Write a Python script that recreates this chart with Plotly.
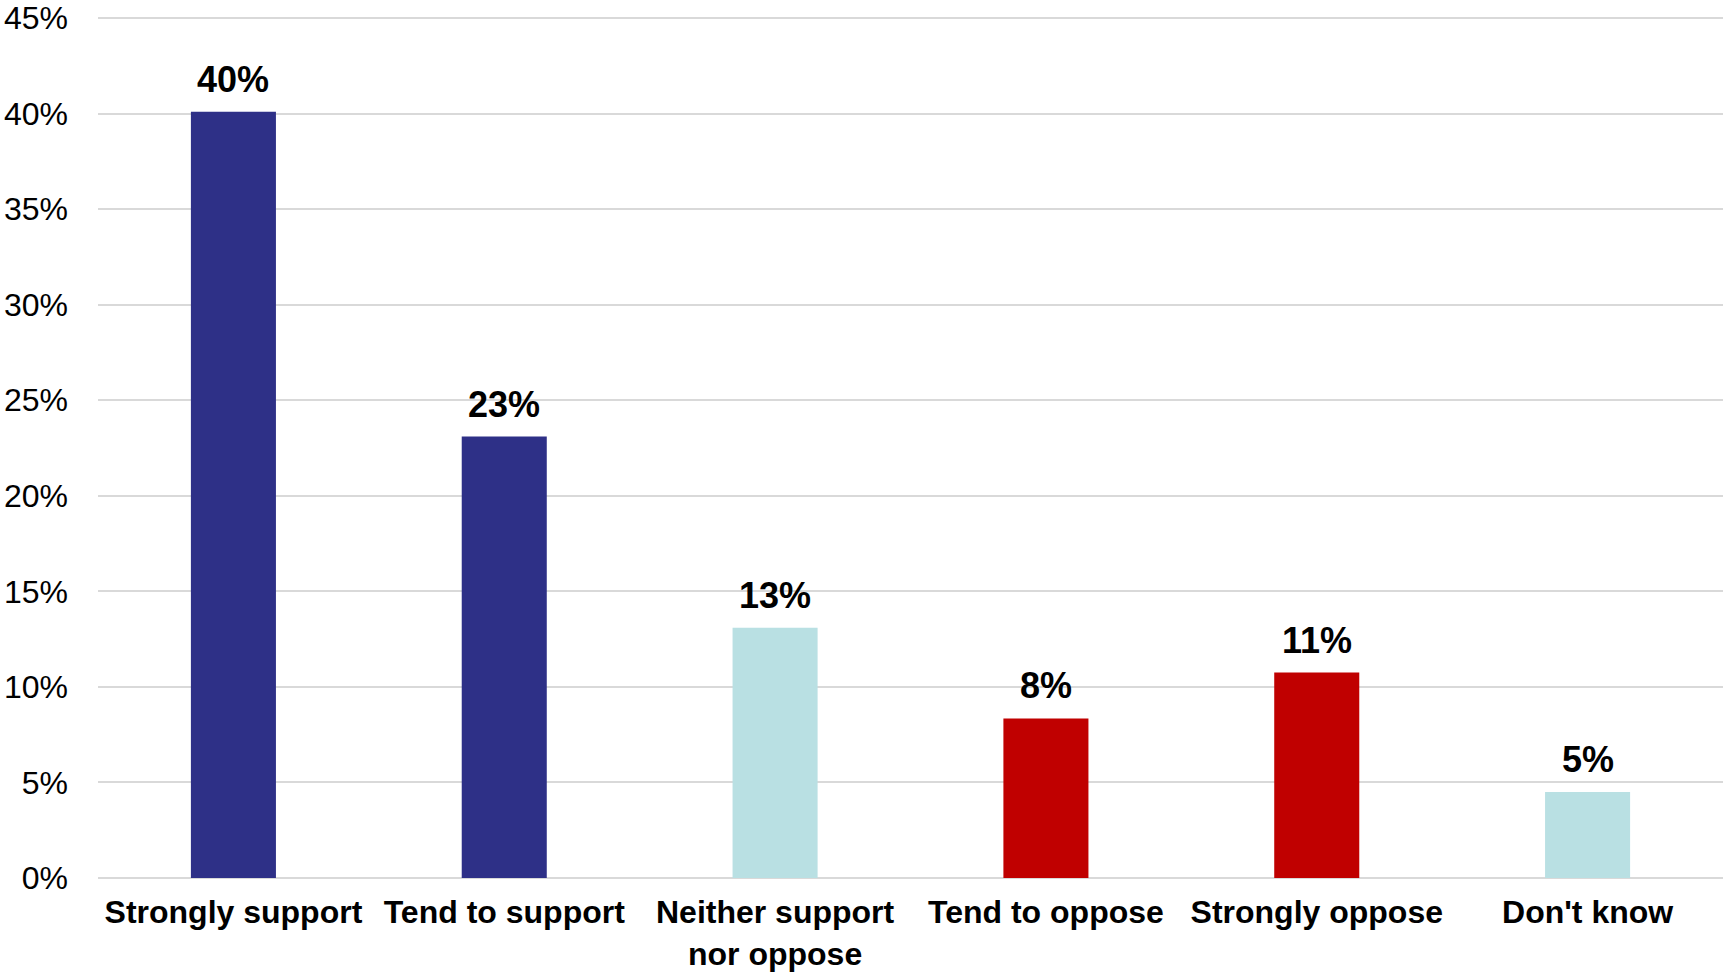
import plotly.graph_objects as go

categories = ["Strongly support", "Tend to support", "Neither support<br>nor oppose",
              "Tend to oppose", "Strongly oppose", "Don't know"]
values = [40.1, 23.1, 13.1, 8.35, 10.75, 4.5]
labels = ["40%", "23%", "13%", "8%", "11%", "5%"]
colors = ["#2E3087", "#2E3087", "#B9E0E3", "#C00000", "#C00000", "#B9E0E3"]
tick_vals = [0, 5, 10, 15, 20, 25, 30, 35, 40, 45]
tick_text = ["0%", "5%", "10%", "15%", "20%", "25%", "30%", "35%", "40%", "45%"]

fig = go.Figure()
fig.add_trace(go.Bar(x=categories, y=values, marker=dict(color=colors, line=dict(width=0)),
                     width=0.314, hoverinfo="skip", cliponaxis=False))

for c, v, t in zip(categories, values, labels):
    fig.add_annotation(x=c, y=v, text=t, showarrow=False, yanchor="bottom", yshift=10,
                       font=dict(family="Liberation Sans, Arial", size=36, color="black", weight="bold"))

fig.update_layout(
    width=1723, height=973,
    margin=dict(l=98, r=0, t=9, b=95),
    plot_bgcolor="white", paper_bgcolor="white",
    showlegend=False,
    font=dict(family="Liberation Sans, Arial", color="black"),
    xaxis=dict(tickfont=dict(size=32, weight="bold"), showgrid=False, showline=False,
               ticks="", ticklabelstandoff=12, ticklabeloverflow="allow"),
    yaxis=dict(range=[0, 45.313], tickvals=tick_vals, ticktext=tick_text,
               tickfont=dict(size=32), showgrid=True, gridcolor="#D9D9D9", gridwidth=2,
               zeroline=True, zerolinecolor="#D9D9D9", zerolinewidth=2,
               showline=False, ticks="", ticklabelstandoff=29, ticklabeloverflow="allow"),
)
fig.write_html("out.html")
